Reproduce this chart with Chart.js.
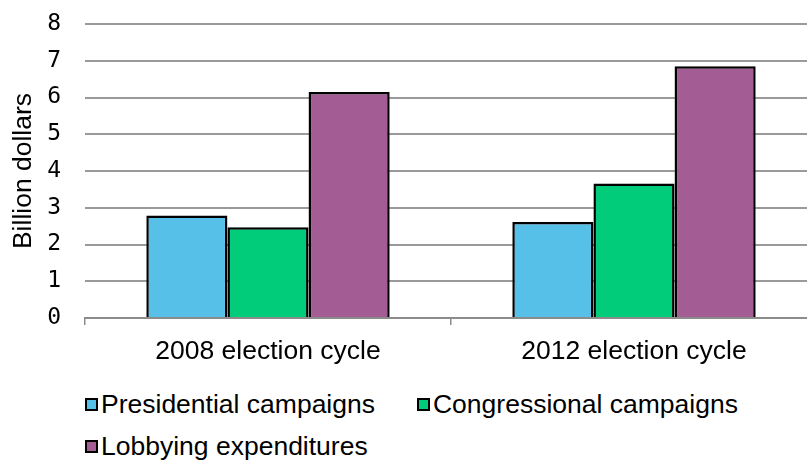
<!DOCTYPE html>
<html>
<head>
<meta charset="utf-8">
<script src="https://cdn.jsdelivr.net/npm/chart.js@4"></script>
<style>
  html, body { margin: 0; padding: 0; background: #fff; }
  #wrap { position: relative; width: 807px; height: 462px; overflow: hidden; }
  #chart { position: absolute; left: 0; top: 0; }
  #legend {
    position: absolute; left: 85px; top: 383px; width: 715px;
    display: flex; flex-wrap: wrap;
    font-family: "Liberation Sans", Arial, sans-serif; font-size: 26.5px; color: #000;
  }
  .item { display: flex; align-items: center; height: 42px; margin-right: 42px; }
  .swatch { width: 9px; height: 9px; border: 2px solid #000; margin-right: 3px; }
</style>
</head>
<body>
<div id="wrap">
  <canvas id="chart" width="830" height="378"></canvas>
  <div id="legend"></div>
</div>
<script>
const categories = ['2008 election cycle', '2012 election cycle'];
const presidential = [2.79, 2.61];
const congressional = [2.47, 3.66];
const lobbying = [6.15, 6.85];
const seriesNames = ['Presidential campaigns', 'Congressional campaigns', 'Lobbying expenditures'];
const seriesColors = ['#56C0E8', '#00CC7A', '#A35C94'];
const yMin = 0, yMax = 8, yStep = 1;

const sansFont = { family: '"Liberation Sans", Arial, sans-serif', size: 26.5 };
const monoFont = { family: '"DejaVu Sans Mono", monospace', size: 23 };

const datasets = [presidential, congressional, lobbying].map((values, i) => ({
  label: seriesNames[i],
  data: values,
  backgroundColor: seriesColors[i]
}));

const chart = new Chart(document.getElementById('chart'), {
  type: 'bar',
  data: { labels: categories, datasets },
  options: {
    responsive: false,
    animation: false,
    layout: { padding: { top: 24, right: 13, left: 0, bottom: 0 } },
    plugins: { legend: { display: false }, tooltip: { enabled: false } },
    datasets: {
      bar: { borderColor: '#000', borderWidth: 2.5, categoryPercentage: 0.665, barPercentage: 1 }
    },
    scales: {
      x: {
        grid: { offset: true, drawOnChartArea: false, tickLength: 7, color: '#8c8c8c', lineWidth: 1.5 },
        border: { color: '#8c8c8c', width: 2 },
        ticks: { font: sansFont, color: '#000', padding: 11 },
        afterFit: s => { s.height = 60; }
      },
      y: {
        min: yMin,
        max: yMax,
        ticks: { stepSize: yStep, font: monoFont, color: '#000', padding: 24 },
        grid: { drawTicks: false, color: '#9a9a9a', lineWidth: 2 },
        border: { display: false },
        title: { display: true, text: 'Billion dollars', font: sansFont, color: '#000', padding: { top: 8, bottom: 0 } },
        afterFit: s => {
          s.width = 85;
          // tick padding would otherwise push the plot top down
          s.paddingTop = 0;
          s.paddingBottom = 0;
        }
      }
    }
  }
});

// legend built from the dataset list
const legend = document.getElementById('legend');
chart.data.datasets.forEach(ds => {
  const item = document.createElement('div');
  item.className = 'item';
  const sw = document.createElement('span');
  sw.className = 'swatch';
  sw.style.background = ds.backgroundColor;
  item.appendChild(sw);
  item.appendChild(document.createTextNode(ds.label));
  legend.appendChild(item);
});
</script>
</body>
</html>
